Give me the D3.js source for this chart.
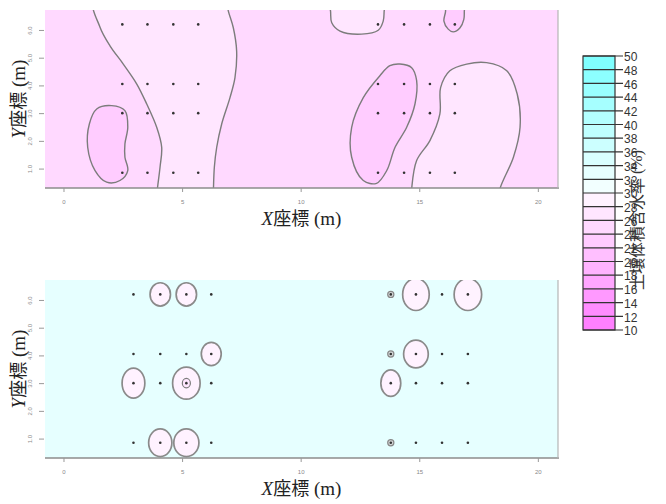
<!DOCTYPE html>
<html>
<head>
<meta charset="utf-8">
<script src="https://cdn.jsdelivr.net/npm/d3@7"></script>
<style>
  body { margin: 0; background: #fff; }
</style>
</head>
<body>
<svg id="chart" width="666" height="504"></svg>
<script>
// ---- data (metres / %) ----
const levels = d3.range(10, 52, 2);           // legend breaks 10..50
const xTicks = [0, 5, 10, 15, 20];
const yTicks = [1, 2, 3, 4, 5, 6];
const sampleRows = [0.85, 3.0, 4.05, 6.2];
const topCols = [2.48, 3.54, 4.63, 5.68, 13.26, 14.36, 15.45, 16.5];
const bottomCols = [2.95, 4.08, 5.18, 6.23, 13.8, 14.86, 15.96, 17.05];

// upper map: background band 24-26 %, contour regions
const topBase = 25;
const leftBand = [[1.3,7.1],[1.54,6.1],[1.96,5.43],[2.52,4.77],[3.09,4.05],[3.51,3.33],[3.93,2.49],[4.14,1.77],[4.07,1.05],[3.95,0.2],[3.9,-0.3],[6.3,-0.3],[6.32,0.2],[6.36,1.05],[6.46,1.77],[6.67,2.61],[7.02,3.56],[7.23,4.28],[7.3,5.24],[7.16,6.08],[6.95,6.68],[6.85,7.1]];
const leftPocket = [[2.03,3.27],[2.59,3.09],[2.71,2.49],[2.59,1.89],[2.59,1.41],[2.71,0.93],[2.38,0.57],[1.82,0.51],[1.33,0.93],[1.02,1.77],[1.09,2.61],[1.4,3.15]];
const midBand = [[11.2,7.1],[11.26,6.68],[11.31,6.26],[11.66,5.96],[12.57,5.85],[13.27,5.99],[13.48,6.32],[13.52,6.68],[13.55,7.1]];
const smallPocket = [[16.08,7.1],[16.11,6.68],[16.04,6.32],[16.22,6.03],[16.43,5.93],[16.72,6.08],[16.88,6.38],[16.9,6.68],[16.92,7.1]];
const rightPocket = [[14.19,4.77],[14.68,4.64],[14.89,4.17],[14.82,3.33],[14.47,2.49],[13.98,1.77],[13.63,0.93],[13.2,0.47],[12.64,0.57],[12.15,1.41],[12.15,2.49],[12.64,3.56],[13.34,4.35],[13.76,4.71]];
const rightBand = [[14.66,-0.3],[14.68,0.27],[14.89,1.29],[15.45,2.01],[15.87,2.97],[15.9,3.92],[16.29,4.53],[17.0,4.77],[17.84,4.82],[18.69,4.53],[19.13,3.69],[19.25,2.49],[18.97,1.41],[18.4,0.27],[18.3,-0.3]];
const topRegions = [
  { value: 27, pts: leftBand },
  { value: 23, pts: leftPocket },
  { value: 27, pts: midBand },
  { value: 23, pts: smallPocket },
  { value: 23, pts: rightPocket },
  { value: 27, pts: rightBand }
];

// lower map: background band 32-34 %, drier spots around single samples
const bottomBase = 33;
const spotX  = [4.08, 5.18, 6.23, 2.95, 5.18, 4.08, 5.18, 14.86, 17.05, 14.86, 13.8];
const spotY  = [6.2, 6.2, 4.05, 3.0, 3.0, 0.85, 0.85, 6.2, 6.2, 4.05, 3.0];
const spotRx = [0.43, 0.43, 0.42, 0.48, 0.58, 0.49, 0.53, 0.56, 0.58, 0.52, 0.42];
const spotRy = [0.42, 0.42, 0.42, 0.54, 0.58, 0.5, 0.5, 0.58, 0.58, 0.5, 0.48];
const spotValue = [29, 29, 29, 29, 29, 29, 29, 29, 29, 29, 29];
const coreX = [5.18], coreY = [3.0], coreR = [0.17], coreValue = [27];
const wetX = [13.8, 13.8, 13.8], wetY = [6.2, 4.05, 0.85], wetR = [0.13, 0.13, 0.13];

// ---- colours: R cm.colors(20), magenta (dry) -> white -> cyan (wet) ----
const bandColors = d3.range(20).map(i => {
  if (i < 10) { const s = 0.5 - 0.05 * i; return d3.rgb(255, 255 * (1 - s), 255).formatHex(); }
  const s = 0.05 + 0.05 * (i - 10); return d3.rgb(255 * (1 - s), 255, 255).formatHex();
});
const color = d3.scaleThreshold().domain(levels.slice(1, -1)).range(bandColors);

// ---- layout ----
const svg = d3.select("#chart");
const plotL = 45, plotR = 558;
const panels = [
  { top: 10, bottom: 188, id: "top" },
  { top: 280, bottom: 458, id: "bot" }
];
const x = d3.scaleLinear().domain([-0.78, 20.85]).range([plotL, plotR]);
const lineColor = "#7c7c7c";
const serif = "'Liberation Serif', 'DejaVu Serif', serif";
const cjk = "'Noto Sans CJK JP', 'Noto Sans CJK SC', sans-serif";

const defs = svg.append("defs");

panels.forEach((p, pi) => {
  const y = d3.scaleLinear().domain([0.3, 6.72]).range([p.bottom, p.top]);
  const line = d3.line().x(d => x(d[0])).y(d => y(d[1])).curve(d3.curveCatmullRomClosed.alpha(0.5));

  defs.append("clipPath").attr("id", "clip-" + p.id)
    .append("rect").attr("x", plotL).attr("y", p.top)
    .attr("width", plotR - plotL).attr("height", p.bottom - p.top);

  const g = svg.append("g").attr("clip-path", `url(#clip-${p.id})`);
  g.append("rect").attr("x", plotL).attr("y", p.top)
    .attr("width", plotR - plotL).attr("height", p.bottom - p.top)
    .attr("fill", color(pi === 0 ? topBase : bottomBase));

  if (pi === 0) {
    g.selectAll("path.region").data(topRegions).join("path")
      .attr("class", "region")
      .attr("d", d => line(d.pts))
      .attr("fill", d => color(d.value))
      .attr("stroke", lineColor).attr("stroke-width", 1.4);
  } else {
    const spots = spotX.map((v, i) => ({ x: v, y: spotY[i], rx: spotRx[i], ry: spotRy[i], value: spotValue[i] }));
    g.selectAll("ellipse.spot").data(spots).join("ellipse")
      .attr("class", "spot")
      .attr("cx", d => x(d.x)).attr("cy", d => y(d.y))
      .attr("rx", d => x(d.x + d.rx) - x(d.x)).attr("ry", d => y(d.y) - y(d.y + d.ry))
      .attr("fill", d => color(d.value)).attr("stroke", "#8a8a8a").attr("stroke-width", 1.7);
    g.selectAll("ellipse.core").data(coreX).join("ellipse")
      .attr("class", "core")
      .attr("cx", d => x(d)).attr("cy", (d, i) => y(coreY[i]))
      .attr("rx", (d, i) => x(d + coreR[i]) - x(d)).attr("ry", (d, i) => y(coreY[i]) - y(coreY[i] + coreR[i]))
      .attr("fill", (d, i) => color(coreValue[i])).attr("stroke", lineColor).attr("stroke-width", 1.2);
    g.selectAll("circle.wet").data(wetX).join("circle")
      .attr("class", "wet")
      .attr("cx", d => x(d)).attr("cy", (d, i) => y(wetY[i]))
      .attr("r", (d, i) => x(d + wetR[i]) - x(d))
      .attr("fill", "#d4d8d8").attr("stroke", "#888").attr("stroke-width", 1.2);
  }

  // sampling points
  const cols = pi === 0 ? topCols : bottomCols;
  const pts = d3.cross(cols, sampleRows);
  svg.append("g").selectAll("circle").data(pts).join("circle")
    .attr("cx", d => x(d[0])).attr("cy", d => y(d[1]))
    .attr("r", 1.3).attr("fill", "#333");

  // frame: bottom and right edges
  svg.append("line").attr("x1", plotL).attr("x2", plotR + 1)
    .attr("y1", p.bottom).attr("y2", p.bottom)
    .attr("stroke", "#8c8c8c").attr("stroke-width", 1.6);
  svg.append("line").attr("x1", plotR).attr("x2", plotR)
    .attr("y1", p.top).attr("y2", p.bottom)
    .attr("stroke", "#b5b5b5").attr("stroke-width", 1.2);

  // x axis
  const xa = svg.append("g").attr("transform", `translate(0,${p.bottom})`)
    .call(d3.axisBottom(x).tickValues(xTicks).tickSize(4).tickPadding(8));
  xa.select(".domain").remove();
  xa.selectAll("line").attr("stroke", "#999");
  xa.selectAll("text").attr("fill", "#888").style("font-size", "6px")
    .style("font-family", "'Liberation Sans', Arial, sans-serif");

  // y axis (ticks only, labels turned along the axis)
  const ya = svg.append("g").attr("transform", `translate(${plotL - 1},0)`)
    .call(d3.axisLeft(y).tickValues(yTicks).tickSize(5));
  ya.select(".domain").remove();
  ya.selectAll("line").attr("stroke", "#999");
  ya.selectAll("text").attr("fill", "#888").style("font-size", "6px")
    .style("font-family", "'Liberation Sans', Arial, sans-serif")
    .attr("text-anchor", "middle").attr("x", null).attr("dy", null).attr("y", 0)
    .attr("transform", "translate(-12,0) rotate(-90)");

  // axis titles
  const xt = svg.append("text")
    .attr("x", (plotL + plotR) / 2).attr("y", p.bottom + 37)
    .attr("text-anchor", "middle").attr("fill", "#222");
  xt.append("tspan").text("X").style("font-family", serif).style("font-style", "italic").style("font-size", "19px");
  xt.append("tspan").text("座標").style("font-family", cjk).style("font-size", "18px");
  xt.append("tspan").text(" (m)").style("font-family", serif).style("font-size", "19px");

  const yt = svg.append("text")
    .attr("transform", `translate(25,${(p.top + p.bottom) / 2}) rotate(-90)`)
    .attr("text-anchor", "middle").attr("fill", "#222");
  yt.append("tspan").text("Y").style("font-family", serif).style("font-style", "italic").style("font-size", "19px");
  yt.append("tspan").text("座標").style("font-family", cjk).style("font-size", "18px");
  yt.append("tspan").text(" (m)").style("font-family", serif).style("font-size", "19px");
});

// ---- colour key ----
const ly = d3.scaleLinear().domain([10, 50]).range([330, 56]);
const keyL = 583, keyR = 615;
const key = svg.append("g");
key.selectAll("rect").data(levels.slice(0, -1)).join("rect")
  .attr("x", keyL).attr("width", keyR - keyL)
  .attr("y", d => ly(d + 2)).attr("height", d => ly(d) - ly(d + 2))
  .attr("fill", d => color(d + 1));
key.append("rect").attr("x", keyL).attr("y", ly(50)).attr("width", keyR - keyL)
  .attr("height", ly(10) - ly(50)).attr("fill", "none").attr("stroke", "#333").attr("stroke-width", 1.2);
key.selectAll("line").data(levels).join("line")
  .attr("x1", keyL).attr("x2", keyR + 8)
  .attr("y1", d => ly(d)).attr("y2", d => ly(d))
  .attr("stroke", "#333").attr("stroke-width", 1.2);
key.selectAll("text.lab").data(levels).join("text")
  .attr("class", "lab")
  .attr("x", keyR + 9).attr("y", d => ly(d) + 1)
  .attr("dy", "0.35em")
  .style("font-family", "'Liberation Sans', Arial, sans-serif").style("font-size", "12px")
  .attr("fill", "#333")
  .text(d => d);

const kt = svg.append("text")
  .attr("transform", `translate(636,220) rotate(-90)`)
  .attr("text-anchor", "middle").attr("dominant-baseline", "central").attr("fill", "#333");
kt.append("tspan").text("土壤体積含水率").style("font-family", cjk).style("font-size", "16px");
kt.append("tspan").text(" (%)").style("font-family", serif).style("font-size", "16px");
</script>
</body>
</html>
